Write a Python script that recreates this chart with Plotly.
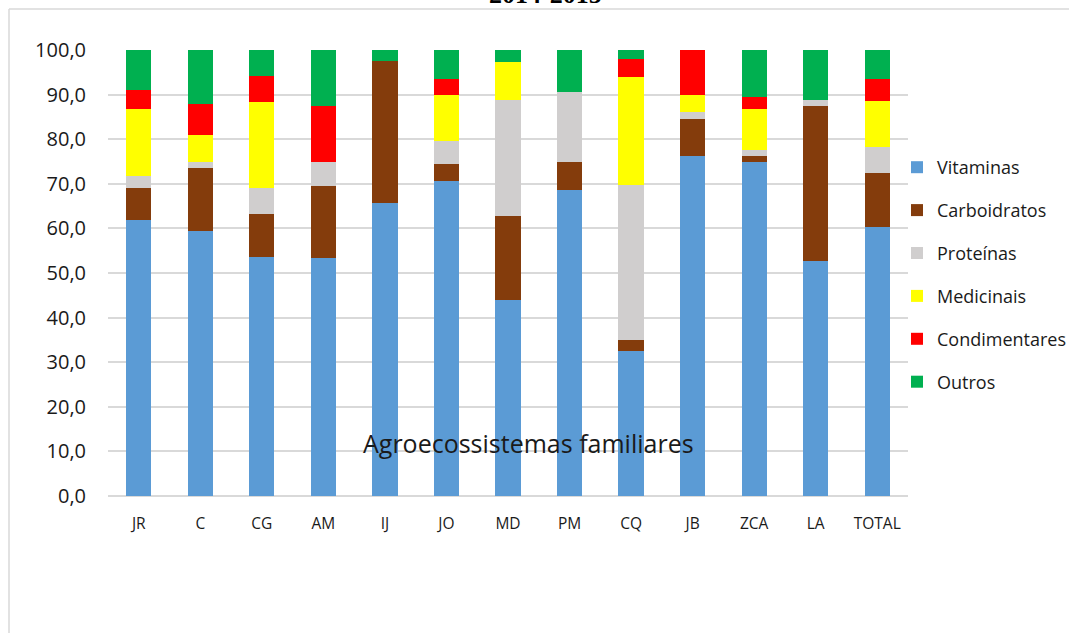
import plotly.graph_objects as go

categories = ["JR", "C", "CG", "AM", "IJ", "JO", "MD", "PM", "CQ", "JB", "ZCA", "LA", "TOTAL"]
vitaminas =     [61.8, 59.4, 53.7, 53.4, 65.8, 70.7, 43.9, 68.7, 32.5, 76.3, 74.9, 52.7, 60.4]
carboidratos =  [7.2, 14.2, 9.6, 16.2, 31.7, 3.8, 18.9, 6.1, 2.5, 8.2, 1.3, 34.7, 12.1]
proteinas =     [2.8, 1.2, 5.8, 5.2, 0.0, 5.2, 26.1, 15.8, 34.8, 1.7, 1.3, 1.3, 5.7]
medicinais =    [15.0, 6.1, 19.2, 0.0, 0.0, 10.1, 8.3, 0.0, 24.2, 3.8, 9.3, 0.0, 10.3]
condimentares = [4.3, 7.1, 5.9, 12.6, 0.0, 3.8, 0.0, 0.0, 3.9, 10.0, 2.6, 0.0, 4.9]
outros =        [8.9, 12.0, 5.8, 12.6, 2.5, 6.4, 2.8, 9.4, 2.1, 0.0, 10.6, 11.3, 6.6]

series = [
    ("Vitaminas", vitaminas, "#5B9BD5"),
    ("Carboidratos", carboidratos, "#843C0C"),
    ("Proteínas", proteinas, "#D0CECE"),
    ("Medicinais", medicinais, "#FFFF00"),
    ("Condimentares", condimentares, "#FF0000"),
    ("Outros", outros, "#00B050"),
]

FONT = "Open Sans"

fig = go.Figure()
for name, vals, color in series:
    fig.add_trace(go.Bar(
        x=categories, y=vals, name=name, legendgroup=name,
        marker=dict(color=color, line=dict(width=0)),
    ))

W, H = 1069, 633
L, R, T, B = 108, 161, 50, 137
ph = H - T - B
pw = W - L - R

def px_to_paper_y(py):
    return (H - B - py) / ph

def px_to_paper_x(pxv):
    return (pxv - L) / pw

fig.update_layout(
    width=W, height=H,
    margin=dict(l=L, r=R, t=T, b=B, autoexpand=False),
    barmode="stack", bargap=0.59,
    plot_bgcolor="white", paper_bgcolor="white",
    separators=",.",
    font=dict(family=FONT, size=16, color="#1a1a1a"),
    legend=dict(
        x=px_to_paper_x(897), xanchor="left", y=px_to_paper_y(149), yanchor="top",
        traceorder="grouped", tracegroupgap=16.5,
        font=dict(family=FONT, size=18, color="#1a1a1a"),
        itemwidth=30, bgcolor="rgba(0,0,0,0)",
    ),
    xaxis=dict(showgrid=False, showline=False, ticks="", ticklabelstandoff=16,
               tickfont=dict(size=15.5)),
    yaxis=dict(range=[0, 100], dtick=10, tickformat=".1f", showgrid=True,
               gridcolor="#D9D9D9", gridwidth=1.5, zeroline=True, zerolinecolor="#D9D9D9",
               zerolinewidth=1.5, showline=False, ticks="", ticklabelstandoff=21,
               tickfont=dict(size=20)),
    shapes=[
        dict(type="line", xref="paper", yref="paper",
             x0=px_to_paper_x(9), x1=px_to_paper_x(1075), y0=px_to_paper_y(9), y1=px_to_paper_y(9),
             line=dict(color="#D9D9D9", width=1.5)),
        dict(type="line", xref="paper", yref="paper",
             x0=px_to_paper_x(9), x1=px_to_paper_x(9), y0=px_to_paper_y(9), y1=px_to_paper_y(640),
             line=dict(color="#D9D9D9", width=1.5)),
    ],
    annotations=[
        dict(text="<b>2014-2015</b>", xref="paper", yref="paper",
             x=px_to_paper_x(545), y=px_to_paper_y(-6), xanchor="center", yanchor="middle",
             showarrow=False, font=dict(family="Liberation Serif", size=26, color="black")),
        dict(text="Agroecossistemas familiares", xref="paper", yref="paper",
             x=px_to_paper_x(528), y=px_to_paper_y(443), xanchor="center", yanchor="middle",
             showarrow=False, font=dict(family=FONT, size=25, color="#1a1a1a")),
    ],
)

fig.write_html("out.html", config={"displayModeBar": False},
               post_script="document.body.style.margin='0';")
